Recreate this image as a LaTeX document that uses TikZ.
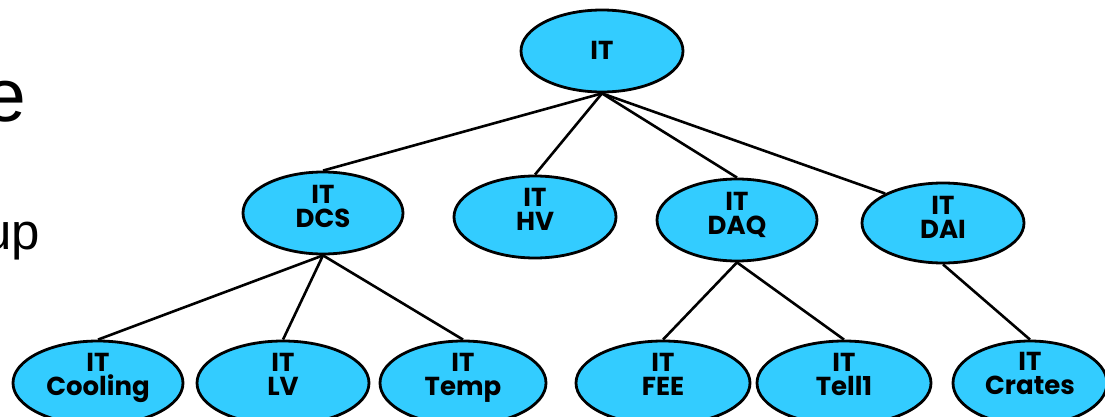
\documentclass[tikz,border=0pt]{standalone}
\usepackage{fontspec}
\usetikzlibrary{shapes.geometric}
\setmainfont{Liberation Sans}
\newfontfamily\bubfont{Poppins}
\definecolor{bubfill}{RGB}{51,204,255}
\begin{document}
\begin{tikzpicture}[x=1pt,y=-1pt,
  bub/.style 2 args={ellipse, draw=black, line width=2.8pt, fill=bubfill,
    inner sep=0pt, minimum width=#1, minimum height=#2},
  tag/.style={font=\bubfont\bfseries\fontsize{26}{24}\selectfont,
    align=center, inner sep=0pt, anchor=north},
  link/.style={line width=2.6pt},
  side/.style={anchor=base east, inner sep=0pt}]
\useasboundingbox (0,0) rectangle (1105,417);

% edge text on the left
\node[side, font=\fontsize{75}{75}\selectfont] (ttl) at (26,122) {e};
\node[side, font=\fontsize{51}{51}\selectfont] (sub) at (40,249) {up};

% bubbles
\node[bub={162pt}{82pt}] (root) at (602,51) {};
\node[bub={160pt}{82pt}] (dcs) at (323,213) {};
\node[bub={162pt}{82pt}] (hv) at (535,217) {};
\node[bub={160pt}{82pt}] (daq) at (737,220) {};
\node[bub={162pt}{80pt}] (dai) at (943,223) {};
\node[bub={170pt}{84pt}] (cool) at (98,383) {};
\node[bub={172pt}{84pt}] (lv) at (283,383) {};
\node[bub={166pt}{84pt}] (temp) at (463,383) {};
\node[bub={174pt}{84pt}] (fee) at (663,383) {};
\node[bub={174pt}{84pt}] (tell) at (844,383) {};
\node[bub={154pt}{84pt}] (crates) at (1030,383) {};

% connectors
\draw[link] (root.south) -- (dcs.north);
\draw[link] (root.south) -- (hv.north);
\draw[link] (root.south) -- (daq.north);
\draw[link] (root.south) -- (dai.153);
\draw[link] (dcs.south) -- (cool.north);
\draw[link] (dcs.south) -- (lv.north);
\draw[link] (dcs.south) -- (temp.north);
\draw[link] (daq.south) -- (fee.north);
\draw[link] (daq.south) -- (tell.north);
\draw[link] (dai.south) -- (crates.north);

% bubble labels
\node[tag] (rootT) at (602,41) {IT};
\node[tag] (dcsT) at (323,185) {IT\\DCS};
\node[tag] (hvT) at (535,188) {IT\\HV};
\node[tag] (daqT) at (737,192) {IT\\DAQ};
\node[tag] (daiT) at (943,196) {IT\\DAI};
\node[tag] (coolT) at (98,353) {IT\\Cooling};
\node[tag] (lvT) at (283,353) {IT\\LV};
\node[tag] (tempT) at (463,353) {IT\\Temp};
\node[tag] (feeT) at (663,353) {IT\\FEE};
\node[tag] (tellT) at (844,353) {IT\\Tell1};
\node[tag] (cratesT) at (1030,352) {IT\\Crates};
\end{tikzpicture}
\end{document}
